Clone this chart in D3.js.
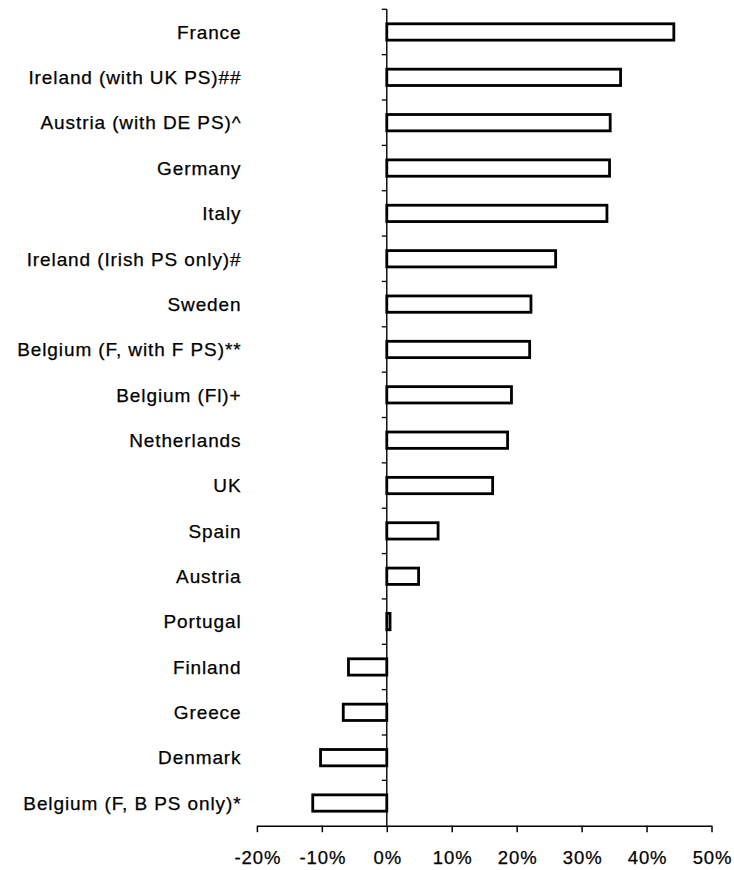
<!DOCTYPE html>
<html>
<head>
<meta charset="utf-8">
<script src="https://cdn.jsdelivr.net/npm/d3@7"></script>
<style>
  html, body { margin: 0; padding: 0; background: #fff; }
  svg { display: block; }
  text { font-family: "Liberation Sans", Arial, Helvetica, sans-serif; fill: #000; }
</style>
</head>
<body>
<svg id="chart" width="734" height="870"></svg>
<script>
// Categories, top to bottom
const categories = [
  "France",
  "Ireland (with UK PS)##",
  "Austria (with DE PS)^",
  "Germany",
  "Italy",
  "Ireland (Irish PS only)#",
  "Sweden",
  "Belgium (F, with F PS)**",
  "Belgium (Fl)+",
  "Netherlands",
  "UK",
  "Spain",
  "Austria",
  "Portugal",
  "Finland",
  "Greece",
  "Denmark",
  "Belgium (F, B PS only)*"
];

// Values as fractions (0.442 = 44.2%)
const values = [
  0.442, 0.360, 0.344, 0.343, 0.339, 0.260, 0.222, 0.220, 0.192,
  0.186, 0.163, 0.079, 0.049, 0.005, -0.059, -0.067, -0.102, -0.114
];

// Tick values for the horizontal axis
const xTicks = [-0.2, -0.1, 0, 0.1, 0.2, 0.3, 0.4, 0.5];

const svg = d3.select("#chart");

const x = d3.scaleLinear().domain([-0.2, 0.5]).range([256.9, 711.5]);
const y = d3.scaleBand()
  .domain(categories)
  .range([9.3, 825.7])
  .paddingInner(0.64)
  .paddingOuter(0.32);

const step = y.step();
const plotTop = y.range()[0];
const plotBottom = y.range()[1];

// Bars: white fill, heavy black outline
svg.append("g")
  .selectAll("rect")
  .data(categories)
  .join("rect")
  .attr("x", (d, i) => x(Math.min(0, values[i])))
  .attr("y", d => y(d))
  .attr("width", (d, i) => Math.abs(x(values[i]) - x(0)))
  .attr("height", y.bandwidth())
  .attr("fill", "#fff")
  .attr("stroke", "#000")
  .attr("stroke-width", 2.8);

// Vertical zero axis with ticks between categories
const yAxisG = svg.append("g");
yAxisG.append("line")
  .attr("x1", x(0)).attr("x2", x(0))
  .attr("y1", plotTop).attr("y2", plotBottom)
  .attr("stroke", "#000").attr("stroke-width", 1.4);
yAxisG.selectAll("line.tick")
  .data(d3.range(categories.length))
  .join("line")
  .attr("class", "tick")
  .attr("x1", x(0) - 5).attr("x2", x(0))
  .attr("y1", i => plotTop + i * step)
  .attr("y2", i => plotTop + i * step)
  .attr("stroke", "#000").attr("stroke-width", 1.3);

// Category labels, right aligned
svg.append("g")
  .selectAll("text")
  .data(categories)
  .join("text")
  .attr("x", 241.5)
  .attr("y", d => y(d) + y.bandwidth() / 2 + 6.8)
  .attr("text-anchor", "end")
  .attr("font-size", 19)
  .attr("letter-spacing", 0.9)
  .attr("stroke", "#000")
  .attr("stroke-width", 0.25)
  .text(d => d);

// Horizontal axis
const xAxis = d3.axisBottom(x)
  .tickValues(xTicks)
  .tickSize(6.5)
  .tickSizeOuter(0)
  .tickFormat(d3.format(".0%"));

const xAxisG = svg.append("g")
  .attr("transform", `translate(0,${plotBottom})`)
  .call(xAxis);
xAxisG.select(".domain").attr("stroke", "#000").attr("stroke-width", 1.5);
xAxisG.selectAll(".tick line").attr("stroke", "#000").attr("stroke-width", 1.5);
xAxisG.selectAll(".tick text")
  .attr("y", 0)
  .attr("dy", 0)
  .attr("transform", "translate(0.5,38.5)")
  .attr("font-size", 18.5)
  .attr("letter-spacing", 0.9)
  .attr("stroke", "#000")
  .attr("stroke-width", 0.25)
  .attr("fill", "#000")
  .style("font-family", "'Liberation Sans', Arial, sans-serif")
  .text(d => d3.format(".0%")(d).replace("−", "-"));
</script>
</body>
</html>
